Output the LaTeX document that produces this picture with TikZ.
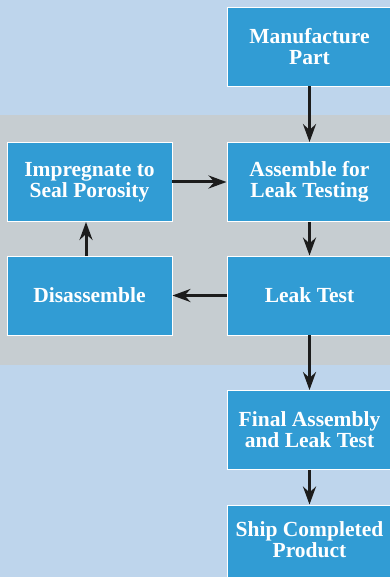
\documentclass[tikz,border=0pt]{standalone}
\usepackage{fontspec}
\setmainfont{Liberation Serif}
\usetikzlibrary{arrows.meta}
\definecolor{bgblue}{HTML}{BED5EC}
\definecolor{bandgray}{HTML}{C6CDD1}
\definecolor{boxblue}{HTML}{319CD4}
\definecolor{arrowdark}{HTML}{1C1C1C}
\begin{document}
\begin{tikzpicture}[x=1pt,y=-1pt,
  stepbox/.style={draw=white,line width=0.9pt,fill=boxblue,text=white,
    minimum width=165pt,minimum height=79pt,inner sep=0pt,align=center,
    font=\fontsize{21.5}{21}\selectfont\bfseries},
  flow/.style={draw=arrowdark,line width=3pt,-{Stealth[length=18pt,width=13pt,inset=6pt]}}]
\useasboundingbox (0,0) rectangle (390,577);
\fill[bgblue] (0,0) rectangle (390,577);
\fill[bandgray] (0,115) rectangle (390,365);
\node[stepbox] (mfg) at (309.5,46.5) {Manufacture\\Part};
\node[stepbox] (asm) at (309.5,182) {Assemble for\\Leak Testing};
\node[stepbox] (imp) at (89.5,182) {Impregnate to\\Seal Porosity};
\node[stepbox] (dis) at (89.5,295.5) {Disassemble};
\node[stepbox] (lt) at (309.5,295.5) {Leak Test};
\node[stepbox] (fin) at (309.5,430) {Final Assembly\\and Leak Test};
\node[stepbox,minimum height=100pt] (ship) at (309.5,555) {};
\node[text=white,align=center,font=\fontsize{21.5}{21}\selectfont\bfseries] (shiptext) at (309.5,540) {Ship Completed\\Product};
\draw[flow] (mfg.south) -- (asm.north);
\draw[flow] (asm.south) -- (lt.north);
\draw[flow] (lt.west) -- (dis.east);
\draw[flow] ([xshift=-3.5pt]dis.north) -- ([xshift=-3.5pt]imp.south);
\draw[flow] (imp.east) -- (asm.west);
\draw[flow] (lt.south) -- (fin.north);
\draw[flow] (fin.south) -- (ship.north);
\end{tikzpicture}
\end{document}
